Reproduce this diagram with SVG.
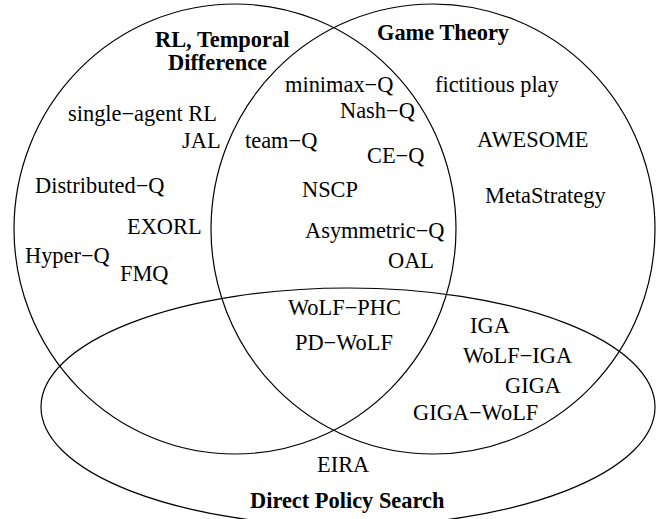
<svg xmlns="http://www.w3.org/2000/svg" width="661" height="519" viewBox="0 0 661 519">
<style>
.set{fill:none;stroke:#000;stroke-width:1.2}
text{font-family:"Liberation Serif","Times New Roman",serif;font-size:22.4px;fill:#000}
.t{font-weight:bold}
</style>
<rect width="661" height="519" fill="#fff"/>
<g id="set-rl">
<ellipse class="set" cx="235" cy="229" rx="221" ry="225"/>
<text class="t" x="155" y="46.5">RL, Temporal</text>
<text class="t" x="168" y="69.5">Difference</text>
</g>
<g id="set-gt">
<ellipse class="set" cx="433" cy="229" rx="222" ry="225"/>
<text class="t" x="377" y="40">Game Theory</text>
</g>
<g id="set-dps">
<ellipse class="set" cx="348" cy="407" rx="307" ry="119"/>
<text class="t" x="250" y="508">Direct Policy Search</text>
</g>
<g id="items">
<text x="68" y="120.5">single−agent RL</text>
<text x="182" y="147.5">JAL</text>
<text x="245" y="147.5">team−Q</text>
<text x="35" y="193">Distributed−Q</text>
<text x="127" y="234">EXORL</text>
<text x="25" y="262.5">Hyper−Q</text>
<text x="120" y="281">FMQ</text>
<text x="285" y="92">minimax−Q</text>
<text x="435" y="92">fictitious play</text>
<text x="340" y="118">Nash−Q</text>
<text x="367" y="163">CE−Q</text>
<text x="477" y="147">AWESOME</text>
<text x="302" y="197">NSCP</text>
<text x="485" y="203">MetaStrategy</text>
<text x="305" y="238">Asymmetric−Q</text>
<text x="388" y="268">OAL</text>
<text x="288" y="315">WoLF−PHC</text>
<text x="295" y="350">PD−WoLF</text>
<text x="470" y="333">IGA</text>
<text x="463" y="363">WoLF−IGA</text>
<text x="505" y="393">GIGA</text>
<text x="413" y="420">GIGA−WoLF</text>
<text x="317" y="472">EIRA</text>
</g>
<g id="connectors"/>
</svg>
